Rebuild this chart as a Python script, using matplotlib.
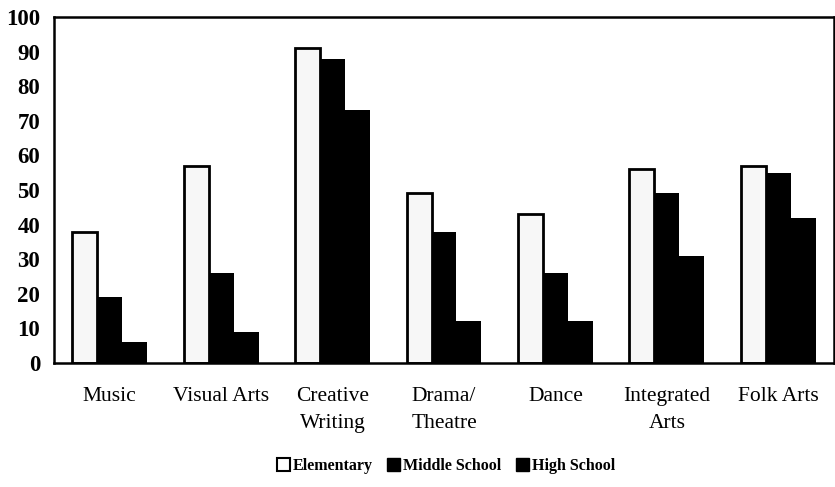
import numpy as np
import matplotlib
matplotlib.use("Agg")
import matplotlib.pyplot as plt
from matplotlib.patches import Patch

# data (percent)
categories = ["Music", "Visual Arts", "Creative\nWriting", "Drama/\nTheatre",
              "Dance", "Integrated\nArts", "Folk Arts"]
elementary = [38, 57, 91, 49, 43, 56, 57]
middle_school = [19, 26, 88, 38, 26, 49, 55]
high_school = [6, 9, 73, 12, 12, 31, 42]
yticks = [0, 10, 20, 30, 40, 50, 60, 70, 80, 90, 100]

plt.rcParams['font.family'] = ['Liberation Serif', 'DejaVu Serif']

fig = plt.figure(figsize=(8.35, 4.87), dpi=100)
ax = fig.add_axes([54/835, 1 - 363/487, 780/835, 346/487])

x = np.arange(len(categories))
w = 0.224
ax.bar(x - w, elementary, w, color='#f7f7f7', edgecolor='black', linewidth=2)
ax.bar(x, middle_school, w, color='black', linewidth=0)
ax.bar(x + w, high_school, w, color='black', linewidth=0)

ax.set_xlim(-0.5, len(categories) - 0.5)
ax.set_ylim(0, 100)
ax.set_yticks(yticks)
ax.set_yticklabels([str(t) for t in yticks], fontsize=16.5, fontweight='bold')
ax.set_xticks(x)
ax.set_xticklabels(categories, fontsize=15.5, linespacing=1.6)
ax.tick_params(axis='both', length=0)
ax.tick_params(axis='x', pad=17)
ax.tick_params(axis='y', pad=10)
for s in ax.spines.values():
    s.set_linewidth(1.8)
    s.set_color('black')

handles = [Patch(facecolor='white', edgecolor='black', linewidth=1.5, label='Elementary'),
           Patch(facecolor='black', edgecolor='black', label='Middle School'),
           Patch(facecolor='black', edgecolor='black', label='High School')]
fig.legend(handles=handles, loc='center', bbox_to_anchor=(446/835, 1 - 466/487),
           ncol=3, frameon=False, prop={'size': 11.5, 'weight': 'bold'},
           handlelength=0.8, handleheight=0.8, handletextpad=0.2, columnspacing=0.9)

fig.savefig('out.png', dpi=100)
